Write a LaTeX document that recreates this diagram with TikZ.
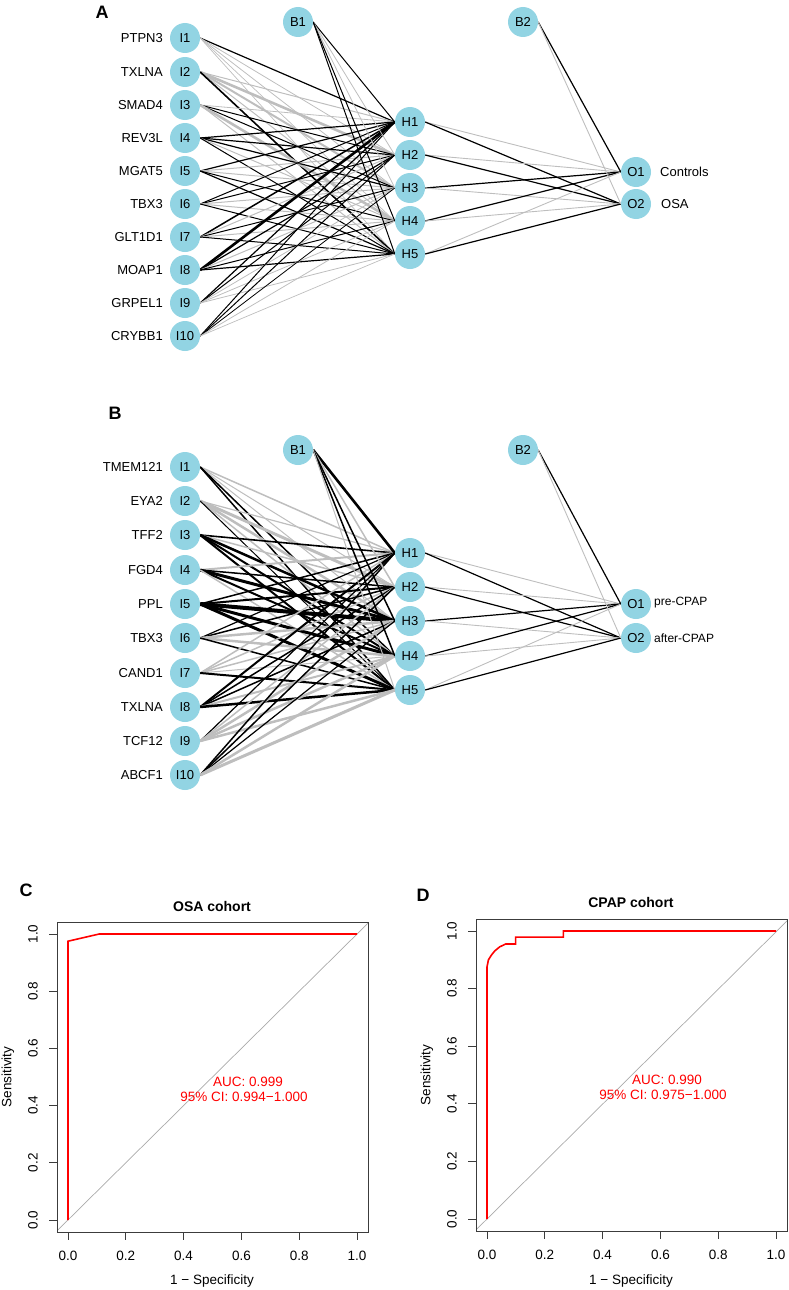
\documentclass[tikz,border=0pt]{standalone}
\usepackage{fontspec}
\setmainfont{Liberation Sans}
\definecolor{nodeblue}{RGB}{146,212,227}
\definecolor{eg}{RGB}{190,190,190}
\definecolor{boxc}{RGB}{60,60,60}
\definecolor{diagc}{RGB}{170,170,170}
\pgfdeclarelayer{bg}
\pgfsetlayers{bg,main}
\begin{document}
\begin{tikzpicture}[x=1pt,y=-1pt,
  nn/.style={circle, fill=nodeblue, minimum size=30pt, inner sep=0pt, font=\fontsize{13}{15}\selectfont},
  lbl/.style={anchor=east, inner sep=0pt, font=\fontsize{13}{15}\selectfont},
  olbl/.style={anchor=west, inner sep=0pt, font=\fontsize{13}{15}\selectfont},
  olblb/.style={anchor=west, inner sep=0pt, font=\fontsize{12}{14}\selectfont},
  panel/.style={font=\bfseries\fontsize{18}{20}\selectfont, inner sep=0pt},
  ttl/.style={font=\bfseries\fontsize{14}{16}\selectfont, inner sep=0pt},
  tick/.style={font=\fontsize{13.5}{15}\selectfont, inner sep=0pt},
  auc/.style={font=\fontsize{13.5}{15}\selectfont, inner sep=0pt, text=red},
  frame/.style={draw=boxc, line width=1pt},
  roc/.style={draw=red, line width=1.6pt, line join=miter},
  diag/.style={draw=diagc, line width=0.7pt}
]
\useasboundingbox (0,0) rectangle (789,1290);

% ================= Panel A =================
\node[panel] (labA) at (102,12) {A};
\foreach \k/\y/\g in {1/38/PTPN3,2/72/TXLNA,3/105/SMAD4,4/138/REV3L,5/171/MGAT5,6/204/TBX3,7/237/GLT1D1,8/270/MOAP1,9/303/GRPEL1,10/336/CRYBB1}{
  \node[nn] (aI\k) at (185,\y) {I\k};
  \node[lbl] (aL\k) at (163,\y) {\g};
}
\foreach \k/\y in {1/122,2/155,3/188,4/221,5/254}{
  \node[nn] (aH\k) at (410,\y) {H\k};
}
\node[nn] (aB1) at (298,22) {B1};
\node[nn] (aB2) at (523,22) {B2};
\node[nn] (aO1) at (636,172) {O1};
\node[nn] (aO2) at (636,204) {O2};
\node[olbl] (aT1) at (660,172) {Controls};
\node[olbl] (aT2) at (661,204) {OSA};

\begin{pgfonlayer}{bg}
\foreach \i/\h/\c/\w in {
 1/1/black/1.2, 1/2/eg/0.8, 1/3/eg/0.8, 1/4/eg/0.7, 1/5/eg/0.7,
 2/1/eg/1.0, 2/2/eg/2.6, 2/3/eg/2.0, 2/4/eg/1.0, 2/5/black/1.6,
 3/1/eg/0.8, 3/2/black/1.0, 3/3/black/1.0, 3/4/eg/2.6, 3/5/eg/1.0,
 4/1/black/1.2, 4/2/black/1.2, 4/3/black/1.2, 4/4/eg/1.0, 4/5/black/1.0,
 5/1/black/1.2, 5/2/eg/1.0, 5/3/eg/1.0, 5/4/black/1.0, 5/5/black/1.2,
 6/1/black/1.0, 6/2/black/1.0, 6/3/eg/1.0, 6/4/eg/1.0, 6/5/black/1.0,
 7/1/black/1.5, 7/2/eg/1.0, 7/3/black/1.0, 7/4/eg/1.0, 7/5/black/1.0,
 8/1/black/2.6, 8/2/black/1.2, 8/3/eg/1.0, 8/4/black/1.0, 8/5/black/1.2,
 9/1/black/1.2, 9/2/black/1.0, 9/3/eg/0.8, 9/4/eg/0.8, 9/5/eg/0.8,
 10/1/black/1.0, 10/2/black/1.0, 10/3/black/0.8, 10/4/eg/0.8, 10/5/eg/0.7}{
  \draw[draw=\c, line width=\w pt] (aI\i.east) -- (aH\h.west);
}
\foreach \h/\c/\w in {1/black/1.0, 2/eg/0.8, 3/eg/0.8, 4/black/1.0, 5/black/1.0}{
  \draw[draw=\c, line width=\w pt] (aB1.east) -- (aH\h.west);
}
\foreach \h/\o/\c/\w in {1/1/eg/0.9, 1/2/black/1.2, 2/1/eg/0.9, 2/2/black/1.2, 3/1/black/1.2, 3/2/eg/0.9, 4/1/black/1.2, 4/2/eg/0.9, 5/1/eg/0.9, 5/2/black/1.2}{
  \draw[draw=\c, line width=\w pt] (aH\h.east) -- (aO\o.west);
}
\draw[draw=black, line width=1.2pt] (aB2.east) -- (aO1.west);
\draw[draw=eg, line width=0.9pt] (aB2.east) -- (aO2.west);
\end{pgfonlayer}

% ================= Panel B =================
\node[panel] (labB) at (115,413) {B};
\foreach \k/\y/\g in {1/467/TMEM121,2/501/EYA2,3/535/TFF2,4/570/FGD4,5/604/PPL,6/638/TBX3,7/673/CAND1,8/707/TXLNA,9/741/TCF12,10/775/ABCF1}{
  \node[nn] (bI\k) at (185,\y) {I\k};
  \node[lbl] (bL\k) at (163,\y) {\g};
}
\foreach \k/\y in {1/553,2/587,3/621,4/656,5/690}{
  \node[nn] (bH\k) at (410,\y) {H\k};
}
\node[nn] (bB1) at (298,450) {B1};
\node[nn] (bB2) at (523,450) {B2};
\node[nn] (bO1) at (636,604) {O1};
\node[nn] (bO2) at (636,638) {O2};
\node[olblb] (bT1) at (654,603) {pre-CPAP};
\node[olblb] (bT2) at (654,638) {after-CPAP};

\begin{pgfonlayer}{bg}
\foreach \i/\h/\c/\w in {
 1/1/eg/1.5, 1/2/eg/1.0, 1/3/eg/1.0, 1/4/black/1.5, 1/5/black/1.5,
 2/1/eg/1.2, 2/2/eg/3.0, 2/3/eg/2.5, 2/4/eg/1.5, 2/5/black/1.0,
 3/1/black/1.6, 3/2/eg/1.5, 3/3/black/2.5, 3/4/black/2.0, 3/5/black/2.0,
 4/1/eg/2.0, 4/2/black/1.5, 4/3/black/3.0, 4/4/black/2.0, 4/5/eg/1.5,
 5/1/black/1.5, 5/2/black/2.0, 5/3/black/4.0, 5/4/black/3.0, 5/5/black/3.0,
 6/1/black/1.2, 6/2/black/1.5, 6/3/eg/2.5, 6/4/eg/2.5, 6/5/black/1.5,
 7/1/eg/1.5, 7/2/eg/1.5, 7/3/eg/1.5, 7/4/eg/1.0, 7/5/black/2.0,
 8/1/black/2.0, 8/2/black/1.5, 8/3/black/1.5, 8/4/eg/2.0, 8/5/black/2.5,
 9/1/black/1.2, 9/2/eg/1.5, 9/3/eg/2.5, 9/4/eg/2.5, 9/5/eg/2.5,
 10/1/black/1.5, 10/2/black/1.5, 10/3/black/1.2, 10/4/eg/2.5, 10/5/eg/3.0}{
  \draw[draw=\c, line width=\w pt] (bI\i.east) -- (bH\h.west);
}
\foreach \h/\c/\w in {1/black/2.6, 2/eg/1.5, 3/black/1.5, 4/black/1.5, 5/eg/1.0}{
  \draw[draw=\c, line width=\w pt] (bB1.east) -- (bH\h.west);
}
\foreach \h/\o/\c/\w in {1/1/eg/0.9, 1/2/black/1.2, 2/1/eg/0.9, 2/2/black/1.2, 3/1/black/1.2, 3/2/eg/0.9, 4/1/black/1.2, 4/2/eg/0.9, 5/1/eg/0.9, 5/2/black/1.2}{
  \draw[draw=\c, line width=\w pt] (bH\h.east) -- (bO\o.west);
}
\draw[draw=black, line width=1.2pt] (bB2.east) -- (bO1.west);
\draw[draw=eg, line width=0.9pt] (bB2.east) -- (bO2.west);
\end{pgfonlayer}

% ================= Panel C =================
\node[panel] (labC) at (26,890) {C};
\node[ttl] (titC) at (212,906) {OSA cohort};
\begin{scope}
  \clip (57,922) rectangle (368,1232);
  \draw[diag] (53.5,1234.3) -- (371.5,919.7);
\end{scope}
\draw[roc] (68,1220) -- (68,941.2) -- (99.2,934) -- (357,934);
\draw[frame] (57,922) rectangle (368,1232);
\foreach \v/\t in {0/0.0,0.2/0.2,0.4/0.4,0.6/0.6,0.8/0.8,1/1.0}{
  \draw[frame] ({68+289*\v},1232) -- ++(0,8);
  \node[tick] (cx\t) at ({68+289*\v},1256) {\t};
  \draw[frame] (57,{1220-286*\v}) -- ++(-8,0);
  \node[tick, rotate=90] (cy\t) at (33,{1220-286*\v}) {\t};
}
\node[tick] (xlabC) at (212,1281) {1 − Specificity};
\node[tick, rotate=90] (ylabC) at (8,1077) {Sensitivity};
\node[auc] (aucC) at (248,1082) {AUC: 0.999};
\node[auc] (ciC) at (244,1097) {95\% CI: 0.994−1.000};

% ================= Panel D =================
\node[panel] (labD) at (423,895) {D};
\node[ttl] (titD) at (631,902) {CPAP cohort};
\begin{scope}
  \clip (476,919) rectangle (787,1231);
  \draw[diag] (472.5,1233.4) -- (790.5,917.4);
\end{scope}
\begin{scope}[shift={(487,1219)}, x=289pt, y=288pt]
  \draw[roc] (0,0) -- (0,0.875) -- (0.005,0.9) -- (0.015,0.916) -- (0.027,0.931) -- (0.044,0.945) -- (0.065,0.955) -- (0.099,0.955) -- (0.099,0.979) -- (0.264,0.979) -- (0.264,1) -- (1,1);
\end{scope}
\draw[frame] (476,919) rectangle (787,1231);
\foreach \v/\t in {0/0.0,0.2/0.2,0.4/0.4,0.6/0.6,0.8/0.8,1/1.0}{
  \draw[frame] ({487+289*\v},1231) -- ++(0,8);
  \node[tick] (dx\t) at ({487+289*\v},1255) {\t};
  \draw[frame] (476,{1219-288*\v}) -- ++(-8,0);
  \node[tick, rotate=90] (dy\t) at (452,{1219-288*\v}) {\t};
}
\node[tick] (xlabD) at (631,1281) {1 − Specificity};
\node[tick, rotate=90] (ylabD) at (427,1075) {Sensitivity};
\node[auc] (aucD) at (667,1080) {AUC: 0.990};
\node[auc] (ciD) at (663,1095) {95\% CI: 0.975−1.000};
\end{tikzpicture}
\end{document}
